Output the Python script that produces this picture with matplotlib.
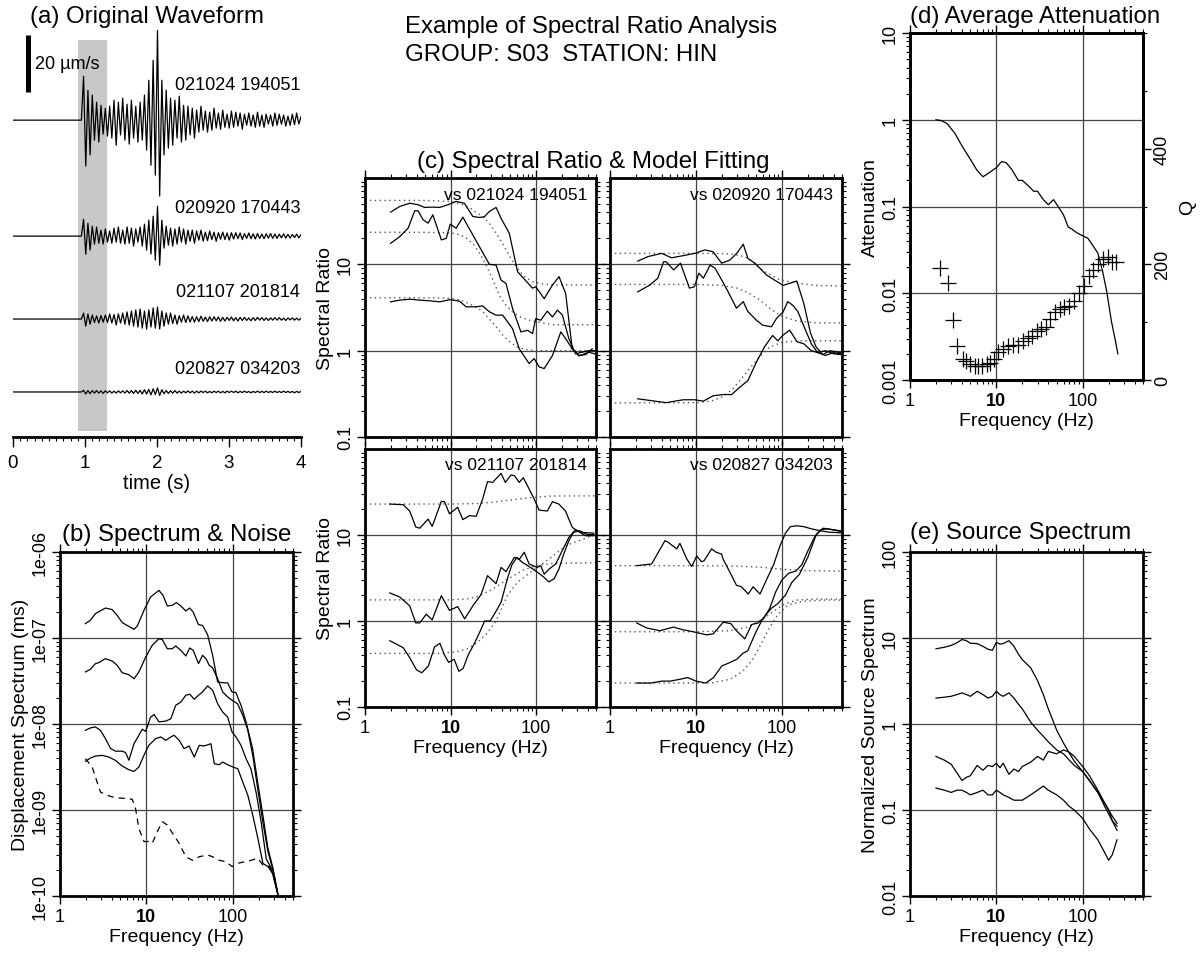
import numpy as np
import matplotlib.pyplot as plt
from matplotlib.ticker import LogLocator, NullFormatter, MultipleLocator

plt.rcParams['font.family'] = ['Liberation Sans', 'DejaVu Sans']

# ---------------- (a) waveforms, um/s, alternating peaks after onset ----------------
trace_names = ['021024 194051', '020920 170443', '021107 201814', '020827 034203']
wave1 = [0, 15.4, -16.1, 10.5, -12.2, 8.8, -7.0, 6.3, -7.7, 5.2,
         -4.9, 4.2, -5.6, 4.9, -6.3, 7.0, -8.8, 6.3, -5.2, 7.7,
         -7.0, 5.6, -8.4, 7.0, -6.3, 4.9, -7.7, 6.3, -7.0, 8.8,
         -10.5, 14.0, -15.8, 21.0, -19.3, 31.5, -26.6, 14.0, -12.2, 10.5,
         -9.8, 7.7, -8.8, 7.0, -6.3, 8.4, -7.7, 5.2, -7.0, 4.9,
         -5.2, 4.2, -6.3, 3.5, -4.2, 4.9, -3.5, 3.2, -4.2, 2.8,
         -3.5, 4.2, -2.8, 2.5, -3.2, 3.5, -2.5, 2.1, -2.8, 3.2,
         -2.5, 2.8, -2.1, 2.5, -3.2, 2.1, -1.8, 2.5, -2.1, 1.8,
         -2.5, 2.8, -2.1, 1.8, -2.5, 2.1, -1.4, 1.8, -2.1, 2.5,
         -1.8, 2.1, -1.4, 1.8, -2.1, 1.4, -1.8, 2.1, -1.6, 2.5, -1.4, 1.2]
wave2 = [0, 5.9, -6.3, 4.5, -4.9, 3.5, -2.8, 3.2, -2.5, 2.1,
         -2.8, 2.5, -2.1, 1.8, -2.5, 2.8, -2.1, 3.2, -2.5, 2.1,
         -2.8, 3.2, -2.5, 2.8, -3.5, 2.5, -2.1, 3.2, -3.5, 4.2,
         -4.9, 5.6, -6.3, 7.0, -8.4, 10.5, -10.2, 5.6, -4.2, 3.5,
         -3.2, 2.8, -3.5, 2.5, -2.8, 3.2, -2.1, 2.5, -2.8, 2.1,
         -1.8, 2.1, -2.5, 1.8, -1.4, 2.1, -1.8, 1.4, -1.6, 1.8,
         -1.2, 1.4, -1.8, 1.2, -1.1, 1.4, -1.2, 1.1, -1.4, 1.2,
         -1.0, 1.2, -0.9, 1.1, -1.2, 0.9, -0.8, 1.1, -0.9, 0.8,
         -1.0, 0.9, -0.8, 0.7, -0.9, 0.8, -0.7, 0.9, -0.8, 0.7,
         -0.8, 0.7, -0.6, 0.8, -0.7, 0.6, -0.7, 0.6, -0.5, 0.7, -0.6, 0.5]
wave3 = [0, 2.1, -2.5, 1.8, -1.8, 1.4, -1.2, 1.1, -1.4, 1.2,
         -1.1, 1.4, -1.2, 1.8, -1.4, 1.6, -2.1, 1.8, -1.4, 2.1,
         -1.8, 2.5, -2.1, 2.8, -2.5, 3.2, -2.8, 3.5, -3.2, 2.8,
         -3.5, 3.2, -2.8, 3.9, -3.2, 4.2, -3.5, 2.8, -2.5, 2.1,
         -1.8, 2.1, -1.6, 1.4, -1.8, 1.2, -1.1, 1.4, -1.2, 1.1,
         -1.0, 0.9, -1.1, 0.8, -0.9, 1.0, -0.8, 0.7, -0.9, 0.8,
         -0.7, 0.8, -0.6, 0.7, -0.8, 0.6, -0.7, 0.6, -0.5, 0.7,
         -0.6, 0.5, -0.7, 0.6, -0.5, 0.6, -0.5, 0.4, -0.6, 0.5,
         -0.5, 0.6, -0.4, 0.5, -0.5, 0.4, -0.5, 0.4, -0.4, 0.5,
         -0.4, 0.5, -0.4, 0.3, -0.5, 0.4, -0.3, 0.4, -0.4, 0.3, -0.4, 0.3]
wave4 = [0, 0.6, -0.7, 0.5, -0.6, 0.5, -0.4, 0.5, -0.4, 0.4,
         -0.5, 0.4, -0.3, 0.4, -0.4, 0.3, -0.4, 0.4, -0.3, 0.4,
         -0.4, 0.5, -0.4, 0.5, -0.5, 0.6, -0.5, 0.6, -0.7, 0.8,
         -0.7, 0.9, -1.0, 1.1, -0.9, 1.4, -1.2, 0.8, -0.6, 0.5,
         -0.5, 0.4, -0.4, 0.5, -0.4, 0.3, -0.4, 0.3, -0.3, 0.4,
         -0.3, 0.3, -0.4, 0.3, -0.3, 0.3, -0.2, 0.3, -0.3, 0.2,
         -0.3, 0.3, -0.2, 0.3, -0.3, 0.2, -0.3, 0.3, -0.2, 0.3,
         -0.2, 0.3, -0.3, 0.2, -0.2, 0.3, -0.2, 0.2, -0.3, 0.2,
         -0.2, 0.3, -0.2, 0.2, -0.2, 0.3, -0.2, 0.2, -0.2, 0.3,
         -0.2, 0.2, -0.2, 0.3, -0.2, 0.2, -0.2, 0.2, -0.3, 0.2, -0.2, 0.2]
waves = [wave1, wave2, wave3, wave4]
trace_base = [111.2, 70.5, 41.4, 15.8]
label_y = [123.6, 80.7, 50.9, 23.9]

# ---------------- (b) displacement spectra (m*s) ----------------
sp1_f = [1.97, 2.25, 2.57, 3.36, 4.02, 4.6, 5.26, 6.0, 7.2, 7.86, 9.4, 11.2, 14.0, 15.6, 17.5,
         20.0, 22.3, 25.1, 28.7, 31.8, 34.9, 40.2, 44.8, 51.3, 58.6, 67, 76.6, 87.6, 98.3, 109,
         125, 143, 170, 195, 224, 256, 293, 335]
sp1 = [1.47e-7, 1.61e-7, 1.92e-7, 2.23e-7, 2.14e-7, 1.83e-7, 1.51e-7, 1.40e-7, 1.26e-7, 1.38e-7,
       2.1e-7, 3.0e-7, 3.58e-7, 3.13e-7, 2.36e-7, 2.4e-7, 2.58e-7, 2.36e-7, 2.06e-7, 2.23e-7,
       2.0e-7, 1.43e-7, 1.40e-7, 1.09e-7, 6.3e-8, 3.08e-8, 3.02e-8, 3.0e-8, 2.36e-8, 2.32e-8,
       1.65e-8, 1.06e-8, 5.2e-9, 2.1e-9, 8.7e-10, 3.6e-10, 2.1e-10, 1.03e-10]
sp2_f = [1.97, 2.25, 2.57, 2.81, 3.36, 4.02, 4.6, 5.26, 6.28, 7.2, 8.2, 9.83, 11.7, 14.0, 15.3,
         17.5, 20.0, 21.9, 25.1, 28.7, 31.8, 34.9, 40.2, 44.8, 49.0, 53.6, 58.6, 67, 76.6, 87.6,
         98.3, 114, 131, 150, 171, 195, 224, 256, 293, 335]
sp2 = [4.03e-8, 4.32e-8, 5.03e-8, 5.17e-8, 5.75e-8, 5.4e-8, 4.81e-8, 3.95e-8, 3.74e-8, 3.36e-8,
       4.03e-8, 6.0e-8, 8.22e-8, 9.8e-8, 9.6e-8, 7.5e-8, 7.5e-8, 8.07e-8, 7.19e-8, 6.18e-8,
       7.65e-8, 7.19e-8, 5.03e-8, 6.29e-8, 5.75e-8, 4.81e-8, 4.48e-8, 3.36e-8, 2.36e-8, 2.06e-8,
       1.89e-8, 1.72e-8, 1.26e-8, 8.4e-9, 4.3e-9, 1.77e-9, 7.2e-10, 3.3e-10, 2.0e-10, 1.03e-10]
sp3_f = [1.97, 2.25, 2.57, 2.94, 3.36, 3.85, 4.4, 5.26, 5.75, 6.28, 7.2, 8.2, 8.98, 9.83, 11.2,
         12.3, 14.0, 16.8, 19.2, 21.9, 25.1, 28.7, 31.8, 35.9, 40.2, 44.8, 51.3, 58.6, 67, 76.6,
         87.6, 98.3, 109, 125, 143, 163, 187, 214, 245, 280, 335]
sp3 = [8.44e-9, 9.0e-9, 9.25e-9, 8.44e-9, 6.76e-9, 5.2e-9, 4.83e-9, 4.83e-9, 4.65e-9, 3.79e-9,
       5.9e-9, 7.4e-9, 8.7e-9, 8.2e-9, 1.2e-8, 1.29e-8, 1.06e-8, 1.08e-8, 1.15e-8, 1.65e-8,
       1.8e-8, 2.16e-8, 2.22e-8, 1.94e-8, 2.16e-8, 2.36e-8, 2.77e-8, 2.47e-8, 1.72e-8, 1.38e-8,
       1.2e-8, 8.1e-9, 7.1e-9, 5.65e-9, 3.95e-9, 3.0e-9, 1.6e-9, 7.2e-10, 2.7e-10, 2.1e-10, 1.03e-10]
sp4_f = [1.97, 2.25, 2.57, 3.08, 3.68, 4.4, 5.26, 6.28, 7.2, 8.2, 9.38, 10.7, 12.8, 14.7, 16.8,
         19.2, 21.0, 24.0, 27.4, 31.3, 35.9, 41.0, 46.8, 56.0, 61.3, 70.0, 76.6, 87.6, 100.5, 114.8,
         131, 150, 171, 196, 224, 256, 293, 335]
sp4 = [3.68e-9, 4.02e-9, 4.24e-9, 4.32e-9, 4.13e-9, 3.77e-9, 3.24e-9, 2.94e-9, 2.81e-9, 3.16e-9,
       4.32e-9, 5.65e-9, 6.76e-9, 7.07e-9, 6.46e-9, 7.07e-9, 7.4e-9, 6.46e-9, 5.17e-9, 5.55e-9,
       4.13e-9, 5.65e-9, 5.55e-9, 5.9e-9, 3.45e-9, 3.36e-9, 3.61e-9, 3.36e-9, 3.16e-9, 3.02e-9,
       2.11e-9, 1.48e-9, 8.7e-10, 4.67e-10, 2.39e-10, 2.2e-10, 1.8e-10, 1.03e-10]
noise_f = [1.97, 2.36, 2.69, 2.94, 3.36, 4.02, 4.8, 6.0, 6.87, 7.5, 8.2, 9.38, 10.7, 11.7, 13.4,
           15.3, 17.5, 20.0, 24.0, 28.7, 34.2, 41.0, 51.3, 58.6, 70.0, 83.8, 98.3, 114.8, 137, 163,
           195, 224, 267, 305, 335]
noise = [3.95e-9, 3.16e-9, 2.11e-9, 1.62e-9, 1.51e-9, 1.42e-9, 1.38e-9, 1.36e-9, 1.33e-9, 1.04e-9,
         6.1e-10, 4.3e-10, 4.3e-10, 4.1e-10, 5.6e-10, 7.3e-10, 6.7e-10, 5.4e-10, 4.1e-10, 2.86e-10,
         2.6e-10, 2.86e-10, 3.0e-10, 2.86e-10, 2.6e-10, 2.5e-10, 2.2e-10, 2.4e-10, 2.5e-10, 2.6e-10,
         2.74e-10, 2.3e-10, 2.2e-10, 1.67e-10, 1.03e-10]

# ---------------- (c) spectral ratios and model fits ----------------
tl_f1 = [2.0, 2.55, 3.34, 4.17, 4.98, 6.2, 7.45, 9.3, 11.6, 14.5, 18.2, 21.7, 24.8, 28.4, 34,
         38.8, 48.5, 60.7, 90.6, 99, 124, 155, 185, 221, 264, 316, 378, 452]
tl_r1 = [40.3, 46.9, 51, 49, 45.6, 46, 45.6, 49, 53.5, 51, 35.8, 34.9, 35.5, 41, 45.6,
         34.3, 22.9, 8.2, 5.3, 5.5, 4.0, 5.75, 7.2, 4.6, 1.05, 0.88, 0.9, 1.05]
tl_f2 = [1.99, 2.55, 3.19, 3.81, 4.17, 4.77, 5.46, 6.2, 7.8, 8.9, 9.9, 11.6, 13.9, 18.2, 22.8,
         28.4, 34, 38.8, 44.4, 52.9, 66.3, 79.2, 90.6, 99, 113, 135, 155, 177, 202, 241, 288, 344, 411, 480]
tl_r2 = [17.5, 21, 26.2, 41.7, 41.7, 32.8, 30, 37.5, 19.2, 20, 29.2, 26.2, 35.2, 21.9, 14.7,
         10, 9.8, 6.6, 6.0, 3.1, 1.65, 1.72, 1.58, 2.35, 2.25, 2.87, 2.46, 2.95, 2.6, 1.38, 0.92, 0.96, 1.0, 1.0]
tl_f3 = [1.99, 2.55, 3.34, 4.36, 5.7, 7.45, 9.9, 12.7, 15.2, 19.9, 23.7, 28.4, 34, 40.6,
         52.9, 63.4, 82.7, 94.8, 108, 124, 155, 194, 221, 264, 316, 411, 480]
tl_r3 = [3.68, 3.85, 3.95, 3.85, 3.78, 3.68, 3.9, 3.75, 3.22, 3.22, 3.3, 2.82, 2.58, 2.58,
         1.8, 1.05, 0.71, 0.81, 0.65, 0.62, 0.88, 1.65, 1.38, 1.05, 0.87, 0.96, 0.92]
tl_mf1 = [1, 5, 10, 14, 17, 20, 24, 29, 34, 41, 48, 56, 64, 75, 90, 120, 160, 500]
tl_m1 = [55, 55, 53.5, 49, 44.8, 40, 35.5, 29, 23, 17, 12.8, 10, 8.3, 7.1, 6.3, 5.9, 5.8, 5.75]
tl_mf2 = [1, 5, 10, 13, 16, 19, 22, 26, 31, 37, 44, 53, 65, 90, 155, 500]
tl_m2 = [23.5, 23.5, 23.2, 22, 19.5, 16.5, 13.2, 9.8, 6.7, 4.4, 3.4, 2.8, 2.45, 2.2, 2.0, 2.0]
tl_mf3 = [1, 5, 10, 13, 16, 20, 24, 28, 34, 41, 50, 60, 75, 100, 500]
tl_m3 = [4.1, 4.1, 4.05, 3.85, 3.55, 3.2, 2.8, 2.35, 1.9, 1.5, 1.25, 1.1, 1.03, 1.0, 1.0]

tr_f1 = [2.1, 2.77, 4.0, 5.2, 7.1, 9.7, 12.7, 15.8, 19.9, 24.8, 30, 35.5, 40.2, 48.5,
         66.5, 103, 149, 180, 215, 250, 300, 360, 480]
tr_r1 = [10.9, 12.3, 13.4, 11.9, 12.6, 13.4, 14.7, 14, 10.3, 11.2, 13.5, 17.1, 11.7, 10.3,
         7.5, 5.7, 6.4, 3.5, 1.6, 1.1, 0.9, 1.0, 0.95]
tr_f2 = [2.1, 2.9, 3.6, 4.2, 4.5, 5.5, 6.6, 8.4, 9.6, 10.8, 12.2, 14.6, 16.7, 19.9, 23.7, 29.6,
         35.5, 40, 50.6, 60, 75.5, 86.5, 103, 117, 134, 153, 185, 220, 260, 320, 400, 480]
tr_r2 = [4.8, 5.75, 6.9, 10.7, 10.7, 8.6, 10.3, 5.3, 5.5, 7.9, 6.9, 9.8, 9.0, 6.6, 4.8, 3.1,
         3.7, 2.85, 2.25, 1.97, 1.89, 2.36, 2.8, 3.7, 3.35, 2.85, 1.8, 1.2, 0.95, 0.88, 0.95, 0.92]
tr_f3 = [2.1, 4.5, 7.1, 9.7, 12.2, 15.8, 20.6, 26, 32.6, 40.2, 50.6, 62.8, 78, 89.6, 102,
         123, 150, 180, 220, 260, 320, 400, 480]
tr_r3 = [0.277, 0.25, 0.27, 0.27, 0.26, 0.3, 0.31, 0.31, 0.38, 0.45, 0.74, 1.11, 1.5, 1.3, 1.5,
         1.73, 1.27, 1.2, 1.0, 0.95, 1.0, 0.92, 0.9]
tr_mf1 = [1, 10, 20, 26, 33, 40, 48, 55, 65, 75, 95, 130, 162, 250, 500]
tr_m1 = [13.4, 13.4, 13.3, 13.1, 12.6, 11.8, 10.3, 9.0, 8.1, 7.5, 6.6, 6.2, 6.0, 5.7, 5.6]
tr_mf2 = [1, 10, 20, 30, 40, 55, 75, 100, 150, 250, 500]
tr_m2 = [5.85, 5.85, 5.7, 5.3, 4.7, 3.9, 3.0, 2.5, 2.2, 2.1, 2.1]
tr_mf3 = [1, 10, 15, 20, 26, 33, 42, 55, 72, 100, 160, 300, 500]
tr_m3 = [0.248, 0.25, 0.26, 0.29, 0.35, 0.46, 0.62, 0.85, 1.1, 1.25, 1.3, 1.3, 1.3]

bl_f1 = [1.95, 2.79, 3.33, 3.92, 4.36, 5.45, 6.1, 7.8, 8.5, 9.7, 12.1, 13.9, 16.6, 19.9, 23.7,
         27, 31, 38.9, 43.6, 50.8, 55.6, 63.4, 70.7, 82.7, 94.8, 108, 135, 155, 184, 220, 264, 301, 377, 472]
bl_r1 = [22.9, 22.5, 19, 12.4, 12, 15.3, 12.6, 24.6, 24.4, 17.6, 21, 15.1, 16.8, 16.5, 26.2,
         41.7, 40.9, 52, 40.9, 49.8, 49, 40.9, 46.4, 34.3, 26.2, 19.5, 19, 24.4, 22.9, 19, 12.3, 11.2, 9.8, 9.8]
bl_f2 = [1.95, 2.55, 3.33, 3.92, 4.36, 5.2, 6.1, 7.8, 9.7, 12.1, 14.6, 18.2, 22.7, 27, 34, 38.9,
         44.4, 55.6, 63.4, 72.6, 82.7, 103, 113, 124, 141, 169, 202, 241, 288, 344, 472]
bl_r2 = [2.12, 1.9, 1.5, 0.95, 0.95, 1.2, 1.03, 1.97, 1.33, 1.47, 1.06, 1.5, 2.03, 3.37, 2.72, 4.2,
         3.75, 5.5, 5.2, 6.3, 4.6, 4.2, 4.4, 3.5, 4.0, 4.6, 6.6, 9.4, 11.5, 10.7, 10.5]
bl_f3 = [1.95, 2.79, 3.3, 4.0, 4.6, 5.5, 6.5, 7.5, 8.5, 9.5, 11, 12.5, 14, 16, 19, 22, 25, 29,
         34, 38.9, 46, 52, 59.6, 68, 82.7, 103, 120, 141, 162, 184, 210, 241, 272, 320, 400, 472]
bl_r3 = [0.59, 0.49, 0.38, 0.27, 0.25, 0.3, 0.5, 0.55, 0.4, 0.33, 0.36, 0.26, 0.28, 0.4, 0.55,
         0.75, 1.0, 1.0, 1.3, 1.65, 3.08, 4.5, 5.5, 4.85, 4.3, 3.7, 3.3, 2.85, 3.1, 4.0, 6.0, 8.6,
         10.7, 11.2, 10.1, 10.1]
bl_mf1 = [1, 10, 20, 30, 50, 80, 150, 500]
bl_m1 = [22.9, 22.9, 23.2, 24, 25.5, 27, 28.4, 28.5]
bl_mf2 = [1, 10, 15, 20, 30, 45, 70, 100, 150, 250, 500]
bl_m2 = [1.76, 1.76, 1.8, 1.9, 2.3, 3.0, 3.9, 4.4, 4.65, 4.73, 4.75]
bl_mf3 = [1, 8, 12, 16, 20, 26, 34, 46, 60, 83, 110, 150, 220, 500]
bl_m3 = [0.42, 0.42, 0.44, 0.48, 0.55, 0.7, 1.0, 1.97, 2.8, 3.6, 4.4, 5.5, 7.5, 10.2]

br_f1 = [2.04, 3.05, 3.65, 4.36, 4.77, 5.97, 6.5, 7.8, 8.9, 10.2, 11.6, 12.4, 15.2, 17.2, 19.9,
         20.6, 24.8, 29.6, 33.8, 40.6, 46.2, 55.6, 68, 80, 95, 110, 125, 150, 180, 220, 280, 350, 480]
br_r1 = [4.4, 4.6, 6.3, 8.6, 8.2, 6.9, 8.0, 5.3, 4.3, 5.7, 4.9, 5.0, 6.9, 6.3, 6.0,
         5.3, 3.7, 2.6, 2.5, 2.06, 2.5, 2.06, 3.2, 4.5, 7.5, 10.5, 12.5, 12.8, 12.5, 11.8, 11.2, 10.8, 10.6]
br_f2 = [2.04, 2.67, 3.8, 5.45, 7.1, 9.3, 13.3, 15.9, 20.8, 25.5, 29.6, 37, 44.4, 53, 62, 72,
         85, 100, 120, 145, 170, 200, 240, 280, 340, 480]
br_r2 = [0.95, 0.83, 0.77, 0.85, 0.79, 0.75, 0.69, 0.71, 0.97, 0.93, 0.77, 0.62, 0.91, 0.95, 1.1, 1.4,
         2.2, 3.0, 3.6, 3.8, 4.5, 6.5, 9.5, 11.5, 11.8, 11.0]
br_f3 = [2.04, 3, 4, 5, 6.5, 8, 10, 13, 16, 20, 25, 30, 35, 40, 50, 58, 66, 75, 90, 110,
         130, 160, 200, 250, 300, 400, 480]
br_r3 = [0.19, 0.19, 0.2, 0.2, 0.21, 0.22, 0.2, 0.19, 0.22, 0.3, 0.33, 0.36, 0.42, 0.45, 0.75, 1.0,
         1.2, 1.4, 1.6, 2.0, 2.8, 3.5, 5.5, 10, 12, 11.5, 11.2]
br_mf1 = [1, 10, 30, 60, 100, 200, 500]
br_m1 = [4.4, 4.4, 4.35, 4.2, 4.0, 3.85, 3.8]
br_mf2 = [1, 10, 25, 40, 60, 80, 110, 150, 250, 500]
br_m2 = [0.75, 0.75, 0.77, 0.85, 1.05, 1.3, 1.6, 1.75, 1.8, 1.8]
br_mf3 = [1, 15, 25, 35, 45, 55, 70, 90, 120, 180, 300, 500]
br_m3 = [0.19, 0.19, 0.21, 0.26, 0.35, 0.5, 0.8, 1.2, 1.55, 1.7, 1.75, 1.75]

# ---------------- (d) attenuation and Q ----------------
att_freq = [2.0, 2.3, 2.7, 3.3, 4.0, 5.0, 6.0, 7.0, 8.5, 10, 11.5, 13, 15, 18, 20, 24, 27, 30, 35, 40,
            46, 52, 60, 68, 75, 85, 100, 115, 130, 150, 170, 190, 215, 240, 256]
att_val = [1.0, 0.98, 0.9, 0.7, 0.5, 0.35, 0.26, 0.22, 0.25, 0.28, 0.33, 0.32, 0.27, 0.2, 0.2,
           0.17, 0.15, 0.15, 0.12, 0.105, 0.12, 0.1, 0.08, 0.058, 0.055, 0.05, 0.046, 0.043,
           0.036, 0.029, 0.018, 0.0105, 0.0048, 0.0028, 0.002]
q_freq = [2.2, 2.77, 3.16, 3.5, 4.1, 4.5, 5.0, 5.6, 6.1, 6.9, 7.7, 8.4, 9.3, 10.5, 11.9, 13.6,
          15.6, 17.8, 20.3, 23.2, 26, 29.5, 33, 37.7, 42.3, 48, 54, 61.6, 70, 80, 91, 104, 117,
          133, 149, 170, 194, 220, 242]
q_val = [194, 168, 104, 59, 36, 32, 28, 25, 25, 25, 28, 30, 36, 48, 53, 59, 61, 61, 68, 72,
         76, 85, 89, 91, 105, 117, 122, 127, 128, 137, 151, 162, 180, 191, 200, 209, 212, 204, 204]

# ---------------- (e) normalized source spectra ----------------
src_freq = [2, 2.5, 3, 3.5, 4, 4.5, 5, 6, 7, 8, 9, 10, 11, 12, 14, 16, 18, 20, 25, 30, 35, 40,
            50, 60, 70, 80, 100, 120, 150, 180, 200, 220, 250]
src1 = [7.5, 7.8, 8.2, 8.8, 9.6, 9.3, 8.7, 8.6, 8.0, 7.4, 7.2, 8.9, 8.5, 8.6, 9.3, 8.0, 6.5, 5.6,
        4.5, 3.2, 2.2, 1.5, 0.85, 0.6, 0.46, 0.37, 0.28, 0.22, 0.16, 0.11, 0.09, 0.075, 0.065]
src2 = [2.0, 2.05, 2.1, 2.2, 2.3, 2.2, 2.1, 2.4, 2.2, 2.0, 2.1, 2.4, 2.2, 2.1, 2.3, 2.0, 1.7, 1.5,
        1.05, 0.85, 0.72, 0.62, 0.5, 0.45, 0.38, 0.33, 0.28, 0.22, 0.16, 0.12, 0.1, 0.085, 0.07]
src3 = [0.42, 0.38, 0.34, 0.27, 0.22, 0.24, 0.25, 0.33, 0.29, 0.33, 0.32, 0.35, 0.31, 0.35, 0.26,
        0.3, 0.28, 0.32, 0.36, 0.42, 0.38, 0.48, 0.45, 0.5, 0.47, 0.42, 0.32, 0.25, 0.17, 0.12,
        0.1, 0.075, 0.058]
src4 = [0.18, 0.17, 0.16, 0.17, 0.17, 0.16, 0.15, 0.16, 0.17, 0.15, 0.15, 0.17, 0.16, 0.15, 0.14,
        0.13, 0.13, 0.13, 0.15, 0.17, 0.19, 0.17, 0.15, 0.13, 0.11, 0.1, 0.08, 0.06, 0.045, 0.032,
        0.026, 0.03, 0.045]

W, H = 1200, 954
fig = plt.figure(figsize=(12, 9.54), dpi=100)


def box(x0, y0, x1, y1):
    return [x0 / W, 1 - y1 / H, (x1 - x0) / W, (y1 - y0) / H]


def ftext(x, y, s, **kw):
    fig.text(x / W, 1 - y / H, s, **kw)


def log_frame(ax, ylim, yticks, ylabs, xlabels=True, right=True):
    ax.set_xscale('log')
    ax.set_yscale('log')
    ax.set_xlim(1, 500)
    ax.set_ylim(*ylim)
    ax.set_xticks([1, 10, 100], ['1', '10', '100'])
    ax.set_yticks(yticks, ylabs)
    for a in (ax.xaxis, ax.yaxis):
        a.set_minor_locator(LogLocator(base=10, subs=np.arange(2, 10), numticks=30))
        a.set_minor_formatter(NullFormatter())
    ax.tick_params(which='major', direction='out', length=6, width=1, top=True, right=right,
                   labelsize=13)
    ax.tick_params(which='minor', direction='out', length=3, width=0.8, top=True, right=right)
    ax.tick_params(axis='y', pad=2)
    ax.tick_params(axis='x', pad=3)
    for sp in ax.spines.values():
        sp.set_linewidth(2)
    ax.grid(True, which='major', color='#444', lw=0.9)
    for lab in ax.get_yticklabels():
        lab.set_rotation(90)
        lab.set_va('center')
    ax.get_xticklabels()[1].set_fontweight('bold')
    if not xlabels:
        ax.tick_params(axis='x', labelbottom=False)


# ---- (a) Original Waveform
ax_a = fig.add_axes(box(13, 20, 301, 438))
ax_a.set_xlim(0, 4)
ax_a.set_ylim(0, 146.7)
ax_a.axvspan(0.9, 1.3, ymin=6 / 418, ymax=397 / 418, color='#c8c8c8', lw=0)
for w, base, name, ly in zip(waves, trace_base, trace_names, label_y):
    t = np.concatenate([[0.0], np.linspace(0.95, 4.0, len(w))])
    ax_a.plot(t, base + np.concatenate([[0.0], w]), color='k', lw=0.9)
    ax_a.text(3.99, ly, name, ha='right', va='center', fontsize=13)
ax_a.plot([0.208, 0.208], [121.1, 141.1], color='k', lw=3.6, solid_capstyle='butt')
ax_a.text(0.3, 131, '20 µm/s', va='center', fontsize=13)
for s in ('left', 'right', 'top'):
    ax_a.spines[s].set_visible(False)
ax_a.spines['bottom'].set_linewidth(2)
ax_a.set_yticks([])
ax_a.set_xticks([0, 1, 2, 3, 4])
ax_a.xaxis.set_minor_locator(MultipleLocator(0.1))
ax_a.tick_params(which='major', direction='out', length=7, width=1, labelsize=13.5, pad=5)
ax_a.tick_params(which='minor', direction='out', length=3, width=0.8)
ax_a.set_xlabel('time (s)', fontsize=14.5, labelpad=2)
ftext(30, 17, '(a) Original Waveform', fontsize=17.3, va='center')

# ---- main title
ftext(405, 27, 'Example of Spectral Ratio Analysis', fontsize=17.3, va='center')
ftext(405, 55, 'GROUP: S03  STATION: HIN', fontsize=17.3, va='center')

# ---- (b) Spectrum & Noise
ax_b = fig.add_axes(box(60, 553, 293, 897))
for f, s in ((sp1_f, sp1), (sp2_f, sp2), (sp3_f, sp3), (sp4_f, sp4)):
    ax_b.plot(f, s, color='k', lw=0.9)
ax_b.plot(noise_f, noise, color='k', lw=0.9, ls=(0, (5, 4)))
log_frame(ax_b, (1e-10, 1e-6), [1e-10, 1e-9, 1e-8, 1e-7, 1e-6],
          ['1e-10', '1e-09', '1e-08', '1e-07', '1e-06'])
ax_b.set_xlabel('Frequency (Hz)', fontsize=14, labelpad=2)
ax_b.set_ylabel('Displacement Spectrum (ms)', fontsize=14, labelpad=2)
ftext(62, 535, '(b) Spectrum & Noise', fontsize=17.3, va='center')

# ---- (c) Spectral Ratio & Model Fitting
c_panels = [
    (box(365, 179, 596, 438), 'vs 021024 194051', [(tl_f1, tl_r1), (tl_f2, tl_r2), (tl_f3, tl_r3)],
     [(tl_mf1, tl_m1), (tl_mf2, tl_m2), (tl_mf3, tl_m3)], True, False),
    (box(610, 179, 842, 438), 'vs 020920 170443', [(tr_f1, tr_r1), (tr_f2, tr_r2), (tr_f3, tr_r3)],
     [(tr_mf1, tr_m1), (tr_mf2, tr_m2), (tr_mf3, tr_m3)], False, False),
    (box(365, 450, 596, 708), 'vs 021107 201814', [(bl_f1, bl_r1), (bl_f2, bl_r2), (bl_f3, bl_r3)],
     [(bl_mf1, bl_m1), (bl_mf2, bl_m2), (bl_mf3, bl_m3)], True, True),
    (box(610, 450, 842, 708), 'vs 020827 034203', [(br_f1, br_r1), (br_f2, br_r2), (br_f3, br_r3)],
     [(br_mf1, br_m1), (br_mf2, br_m2), (br_mf3, br_m3)], False, True),
]
for rect, title, obs, mod, left, bottom in c_panels:
    ax = fig.add_axes(rect)
    for f, m in mod:
        ax.plot(f, m, color='#555', lw=1.0, ls=(0, (1, 2.5)))
    for f, r in obs:
        ax.plot(f, r, color='k', lw=0.9)
    log_frame(ax, (0.1, 100), [0.1, 1, 10], ['0.1', '1', '10'] if left else ['', '', ''],
              xlabels=bottom)
    ax.text(0.961, 0.938, title, transform=ax.transAxes, ha='right', va='center', fontsize=12.5)
    if left:
        ax.set_ylabel('Spectral Ratio', fontsize=14, labelpad=2)
    if bottom:
        ax.set_xlabel('Frequency (Hz)', fontsize=14, labelpad=2)
ftext(417, 162, '(c) Spectral Ratio & Model Fitting', fontsize=17.3, va='center')

# ---- (d) Average Attenuation
ax_d = fig.add_axes(box(910, 34, 1143, 381))
ax_d.plot(att_freq, att_val, color='k', lw=0.9)
log_frame(ax_d, (0.001, 10), [0.001, 0.01, 0.1, 1, 10], ['0.001', '0.01', '0.1', '1', '10'],
          right=False)
ax_d.set_xlabel('Frequency (Hz)', fontsize=14, labelpad=2)
ax_d.set_ylabel('Attenuation', fontsize=14, labelpad=2)
ax_q = ax_d.twinx()
ax_q.plot(q_freq, q_val, ls='none', marker='+', color='k', ms=11, mew=0.9)
ax_q.set_ylim(0, 600)
ax_q.set_yticks([0, 200, 400], ['0', '200', '400'])
ax_q.yaxis.set_minor_locator(MultipleLocator(100))
ax_q.tick_params(which='major', direction='out', length=6, width=1, labelsize=13, pad=2)
ax_q.tick_params(which='minor', direction='out', length=3, width=0.8)
for lab in ax_q.get_yticklabels():
    lab.set_rotation(90)
    lab.set_va('center')
for sp in ax_q.spines.values():
    sp.set_linewidth(2)
ax_q.set_ylabel('Q', fontsize=14, labelpad=6)
ftext(910, 17, '(d) Average Attenuation', fontsize=17.3, va='center')

# ---- (e) Source Spectrum
ax_e = fig.add_axes(box(910, 553, 1143, 897))
for s in (src1, src2, src3, src4):
    ax_e.plot(src_freq, s, color='k', lw=0.9)
log_frame(ax_e, (0.01, 100), [0.01, 0.1, 1, 10, 100], ['0.01', '0.1', '1', '10', '100'])
ax_e.set_xlabel('Frequency (Hz)', fontsize=14, labelpad=2)
ax_e.set_ylabel('Normalized Source Spectrum', fontsize=14, labelpad=2)
ftext(910, 533, '(e) Source Spectrum', fontsize=17.3, va='center')

fig.savefig('out.png', dpi=100)
